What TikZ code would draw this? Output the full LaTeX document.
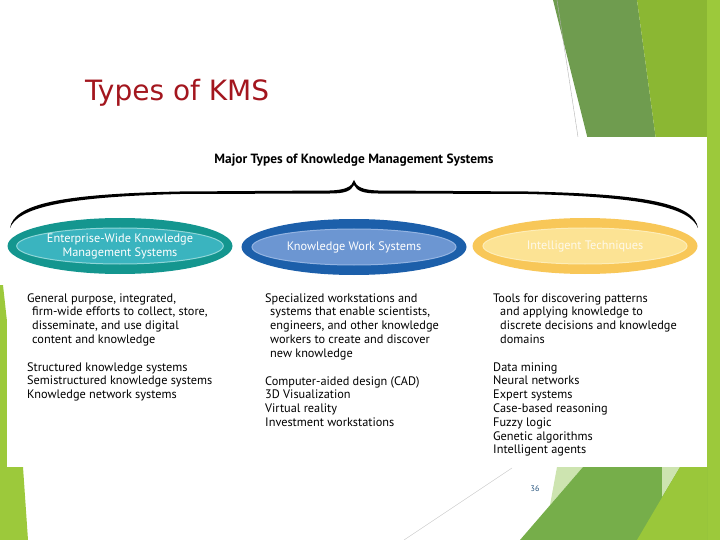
\documentclass[tikz,border=0pt]{standalone}
\usepackage{fontspec}
\usepackage{xcolor}
\setmainfont{PT Sans}
\newfontfamily\slidefont{DejaVu Sans}
\usetikzlibrary{shapes.geometric}

\definecolor{kmsred}{HTML}{A3161E}
\definecolor{leafdark}{HTML}{6F9C4F}
\definecolor{leafmid}{HTML}{8BB733}
\definecolor{leaflight}{HTML}{9CC93B}
\definecolor{leafbottom}{HTML}{76AE4A}
\definecolor{leafpale}{HTML}{CDE4B0}
\definecolor{tealring}{HTML}{14968F}
\definecolor{tealcore}{HTML}{3AB4BF}
\definecolor{tealrim}{HTML}{8FD6D8}
\definecolor{bluering}{HTML}{1C5FAA}
\definecolor{bluecore}{HTML}{6C96D2}
\definecolor{bluerim}{HTML}{94B4E2}
\definecolor{goldring}{HTML}{F8C758}
\definecolor{goldcore}{HTML}{FCE394}
\definecolor{goldrim}{HTML}{FDEDB8}
\definecolor{pagenum}{HTML}{1F4E79}

% lines of a column, first baseline at the node's base
\newcommand{\colblock}[1]{\begin{tabular}[t]{@{}l@{}}#1\end{tabular}}

\tikzset{
	ring/.style={ellipse, minimum width=225pt, minimum height=56pt, inner sep=0pt},
	core/.style={ellipse, minimum width=204pt, minimum height=36pt, inner sep=0pt,
		line width=1pt, align=center, text=white, font=\fontsize{12.3}{14}\selectfont},
	desc/.style={anchor=base west, inner sep=0pt,
		font=\fontsize{12.3}{13.8}\selectfont},
}

\begin{document}
\begin{tikzpicture}[x=1pt, y=-1pt]
	\useasboundingbox (0,0) rectangle (720,540);

	% slide background
	\fill[leafdark]   (553,0) -- (637,0) -- (656,140) -- (588,140) -- cycle;
	\fill[leafmid]    (637,0) -- (707,0) -- (707,140) -- (656,140) -- cycle;
	\fill[leaflight]  (707,0) rectangle (720,540);
	\draw[gray!60, line width=0.4pt] (557,0) -- (578,137);
	\fill[leaflight]  (0,285) -- (3,285) -- (23,467) -- (28,540) -- (0,540) -- cycle;
	\fill[leafpale]   (557,467) -- (583,467) -- (550,505) -- cycle;
	\fill[leafbottom] (583,467) -- (707,467) -- (707,540) -- (520,540) -- cycle;
	\fill[leafpale]   (662,467) -- (680,467) -- (662,497) -- cycle;
	\fill[leaflight!90!leafmid] (680,467) -- (707,467) -- (707,540) -- (637,540) -- cycle;
	\draw[gray!50, line width=0.4pt] (512,468) -- (404,540);
	\fill[white] (7,137) rectangle (707,467);

	\node[anchor=base west, inner sep=0pt, text=kmsred,
		font=\slidefont\fontsize{28}{30}\selectfont]
		(slidetitle) at (85,101) {Types of KMS};

	\node[font=\bfseries\fontsize{13.4}{15}\selectfont]
		(heading) at (354,160) {Major Types of Knowledge Management Systems};

	% brace
	\fill (10,228) .. controls (14,204) and (60,194) .. (180,191.5)
		-- (330,190.5) .. controls (345,190) and (352,187) .. (354,180)
		.. controls (356,187) and (363,190) .. (378,190.5)
		-- (528,191.5) .. controls (648,194) and (694,204) .. (698,228)
		.. controls (690,208) and (646,197) .. (528,194)
		-- (378,193.5) .. controls (363,193.5) and (357,191) .. (354,185)
		.. controls (351,191) and (345,193.5) .. (330,193.5)
		-- (180,194) .. controls (62,197) and (18,208) .. (10,228) -- cycle;

	\node[ring, fill=tealring] (ews) at (120,246) {};
	\node[core, fill=tealcore, draw=tealrim]
		(ewslabel) at (ews.center) {Enterprise-Wide Knowledge\\Management Systems};
	\node[ring, fill=bluering] (kws) at (354,247) {};
	\node[core, fill=bluecore, draw=bluerim]
		(kwslabel) at (kws.center) {Knowledge Work Systems};
	\node[ring, fill=goldring] (it) at (585,246) {};
	\node[core, fill=goldcore, draw=goldrim, text=white!80!goldcore]
		(itlabel) at (it.center) {Intelligent Techniques};

	\node[desc] (ewsdesc) at (27,302) {\colblock{General purpose, integrated,\\
		\hspace*{5pt}firm-wide efforts to collect, store,\\
		\hspace*{5pt}disseminate, and use digital\\
		\hspace*{5pt}content and knowledge}};
	\node[desc] (ewslist) at (27,371) {\colblock{Structured knowledge systems\\
		Semistructured knowledge systems\\Knowledge network systems}};

	\node[desc] (kwsdesc) at (265,302) {\colblock{Specialized workstations and\\
		\hspace*{5pt}systems that enable scientists,\\
		\hspace*{5pt}engineers, and other knowledge\\
		\hspace*{5pt}workers to create and discover\\
		\hspace*{5pt}new knowledge}};
	\node[desc] (kwslist) at (265,385) {\colblock{Computer-aided design (CAD)\\
		3D Visualization\\Virtual reality\\Investment workstations}};

	\node[desc] (itdesc) at (493,302) {\colblock{Tools for discovering patterns\\
		\hspace*{7pt}and applying knowledge to\\
		\hspace*{7pt}discrete decisions and knowledge\\
		\hspace*{7pt}domains}};
	\node[desc] (itlist) at (493,371) {\colblock{Data mining\\Neural networks\\Expert systems\\
		Case-based reasoning\\Fuzzy logic\\Genetic algorithms\\Intelligent agents}};

	\node[text=pagenum, font=\fontsize{8}{9}\selectfont] (pageno) at (535,489) {36};
\end{tikzpicture}
\end{document}
